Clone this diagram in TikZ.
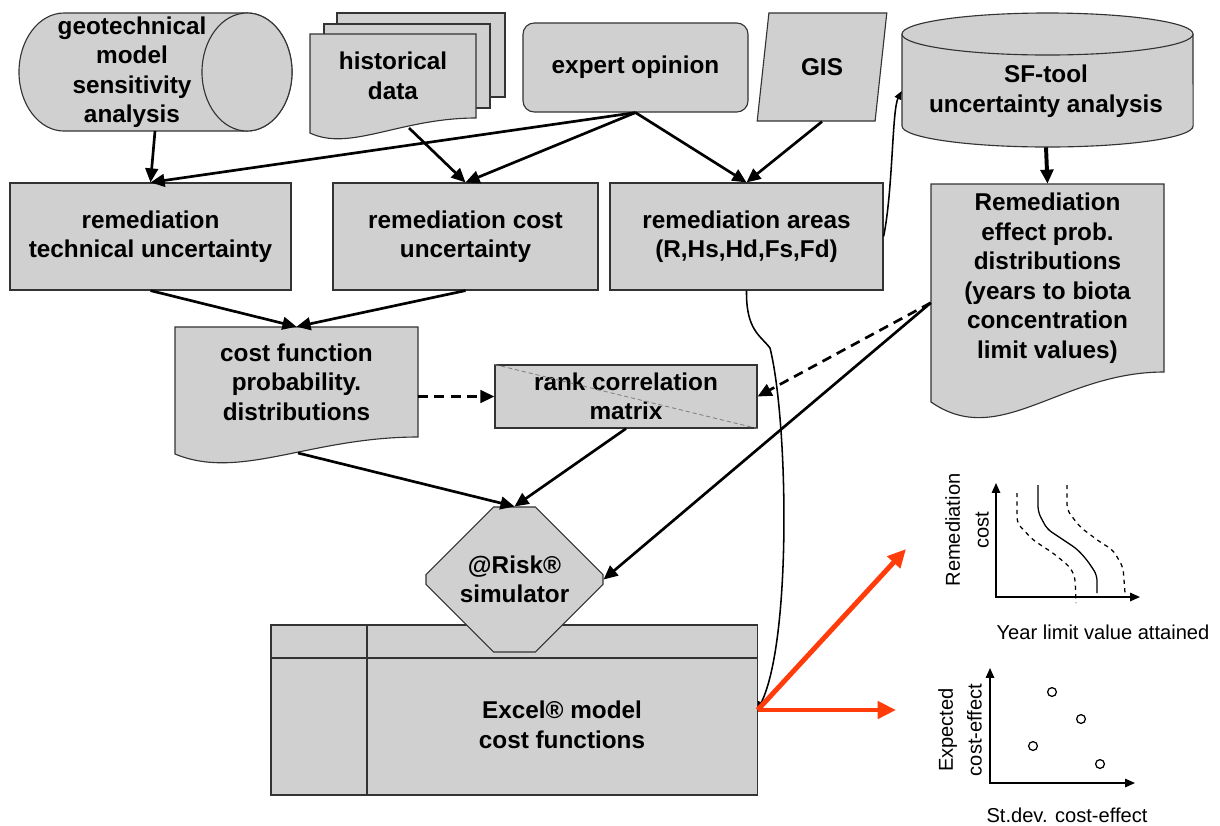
\documentclass[tikz,border=0pt]{standalone}
\usepackage{fontspec}
\setmainfont{Liberation Sans}
\usepackage{tikz}
\usetikzlibrary{shapes.geometric,shapes.misc,arrows.meta}

\definecolor{boxgray}{RGB}{208,208,208}
\definecolor{arrowred}{RGB}{255,60,10}

\tikzset{
  box/.style={draw=black!80,fill=boxgray,line width=0.8pt,align=center,inner sep=0pt,
    font=\fontsize{17.3}{21}\selectfont\bfseries},
  shapeline/.style={draw=black!80,fill=boxgray,line width=0.8pt},
  txt/.style={align=center,inner sep=0pt,font=\fontsize{17.3}{21}\selectfont\bfseries},
  link/.style={line width=1.9pt,-{Triangle[length=10pt,width=9pt]}},
  dlink/.style={link,dash pattern=on 7pt off 4.5pt},
  thinlink/.style={line width=1.1pt,-{Triangle[length=6pt,width=5pt]}},
  redlink/.style={line width=3.5pt,draw=arrowred,-{Triangle[length=13pt,width=12pt]}},
  plotline/.style={line width=0.9pt},
  axis/.style={line width=0.9pt,{Triangle[length=7pt,width=6pt]}-{Triangle[length=7pt,width=6pt]}},
  plotlabel/.style={align=center,inner sep=0pt,font=\fontsize{14.3}{20.5}\selectfont}
}

\begin{document}
\begin{tikzpicture}[x=0.025cm,y=-0.025cm]
\useasboundingbox (0,0) rectangle (1220,825);

\filldraw[shapeline] (247,13) -- (64,13) arc[start angle=90, end angle=270, x radius=1.125cm, y radius=1.475cm] -- (247,131) arc[start angle=270, end angle=450, x radius=1.125cm, y radius=1.475cm];
\draw[shapeline] (247,72) ellipse[x radius=1.125cm, y radius=1.475cm];
\filldraw[shapeline] (902,34) -- (902,126) arc[start angle=180, end angle=360, x radius=3.6375cm, y radius=0.525cm] -- (1193,34);
\draw[shapeline] (1047.5,34) ellipse[x radius=3.6375cm, y radius=0.525cm];
\filldraw[shapeline] (337,13) rectangle (505,97);
\filldraw[shapeline] (324,24) rectangle (490,108);
\filldraw[shapeline] (310,34) -- (476,34) -- (476,118) .. controls (400,118) and (350,152) .. (310,133) -- cycle;
\filldraw[shapeline] (931,184) -- (1164,184) -- (1164,372) .. controls (1060,372) and (1000,450) .. (931,402) -- cycle;
\filldraw[shapeline] (175,327) -- (418,327) -- (418,437) .. controls (310,437) and (240,481) .. (175,454) -- cycle;

\node[txt, minimum height=2.95cm] (6) at (132,72) {geotechnical\\model\\sensitivity\\analysis};
\node[txt, minimum width=4.15cm, minimum height=2.1cm] (5) at (393,76) {historical\\data};
\node[box, rounded corners=8pt, minimum width=5.625cm, minimum height=2.225cm] (8) at (635.5,67.5) {expert opinion};
\node[box, trapezium, trapezium left angle=75, trapezium right angle=105, trapezium stretches=true, minimum width=3.25cm, minimum height=2.7cm] (9) at (822,67) {GIS};
\node[txt, minimum width=7.2cm, minimum height=2.8cm] (7) at (1046,91) {SF-tool\\uncertainty analysis};

\node[box, minimum width=7.025cm, minimum height=2.675cm] (1) at (150.5,236.5) {remediation\\technical uncertainty};
\node[box, minimum width=6.625cm, minimum height=2.675cm] (2) at (465.5,236.5) {remediation cost\\uncertainty};
\node[box, minimum width=6.825cm, minimum height=2.675cm] (3) at (746.5,236.5) {remediation areas\\(R,Hs,Hd,Fs,Fd)};
\node[txt, minimum width=5.825cm, minimum height=4.7cm] (4) at (1047.5,278) {Remediation\\effect prob.\\distributions\\(years to biota\\concentration\\limit values)};

\node[txt, minimum width=6.075cm, minimum height=2.75cm] (14) at (296.5,382) {cost function\\probability.\\distributions};
\node[box, minimum width=6.55cm, minimum height=1.575cm] (10) at (626,396.5) {rank correlation\\matrix};
\draw[gray, densely dashed, line width=0.6pt] (10.north west) -- (10.south east);

\node[box, minimum width=12.15cm, minimum height=4.25cm] (12) at (514,710) {};
\draw[line width=0.8pt, black!80] (271,658) -- (757,658);
\draw[line width=0.8pt, black!80] (367,625) -- (367,795);
\node[txt] (13) at (562,725) {Excel® model\\cost functions};
\node[box, chamfered rectangle, chamfered rectangle xsep=1.075cm, chamfered rectangle ysep=1.1cm, minimum width=4.425cm, minimum height=3.625cm] (11) at (514.5,579.5) {@Risk®\\simulator};

\coordinate (6b) at (155,131);
\coordinate (5b) at (409,128);
\coordinate (14b) at (298,453);
\coordinate (r1) at (906,549);
\coordinate (r2) at (896,710);

\draw[link] (6b) -- (1.north);
\draw[link] (8.south) -- (1.north);
\draw[link] (8.south) -- (2.north);
\draw[link] (5b) -- (2.north);
\draw[link] (8.south) -- (3.north);
\draw[link] (9.south) -- (3.north);
\draw[thinlink] (3.east) .. controls (893,190) and (892,110) .. (7.west);
\draw[line width=2.8pt,-{Triangle[length=10pt,width=9pt]}] (7.south) -- (4.north);
\draw[link] (1.south) -- (14.north);
\draw[link] (2.south) -- (14.north);
\draw[dlink] (10.west -| 14.east) -- (10.west);
\draw[dlink] (4.192) -- (10.east);
\draw[link] (4.192) -- (11.east);
\draw[link] (14b) -- (11.north);
\draw[link] (10.south) -- (11.north);
\draw[thinlink] (3.south) .. controls (746,330) and (760,335) .. (770,348) .. controls (788,420) and (792,640) .. (12.east);
\draw[redlink] (12.east) -- (r1);
\draw[redlink] (12.east) -- (r2);

\draw[axis] (996,483) -- (996,597) -- (1140,597);
\draw[plotline, rounded corners=4pt] (1038,485) -- (1038,512) -- (1047,529) -- (1077,549) -- (1087,560) -- (1097,575) -- (1097,593);
\draw[plotline, dashed, rounded corners=4pt] (1017,493) -- (1017,523) -- (1033,540) -- (1053,553) -- (1070,567) -- (1075,577) -- (1076,603);
\draw[plotline, dashed, rounded corners=4pt] (1067,485) -- (1067,510) -- (1080,527) -- (1100,542) -- (1113,550) -- (1123,567) -- (1125,593);
\node[plotlabel, rotate=90] (15) at (967,530) {Remediation\\cost};
\node[plotlabel] (16) at (1103,632) {Year limit value attained};

\draw[axis] (990,668) -- (990,783) -- (1135,783);
\draw[plotline] (1052,692) circle (0.11cm);
\draw[plotline] (1081,719) circle (0.11cm);
\draw[plotline] (1033,746) circle (0.11cm);
\draw[plotline] (1100,764) circle (0.11cm);
\node[plotlabel, rotate=90] (17) at (960,730) {Expected\\cost-effect};
\node[plotlabel] (18) at (1067,815) {St.dev. cost-effect};
\end{tikzpicture}
\end{document}
